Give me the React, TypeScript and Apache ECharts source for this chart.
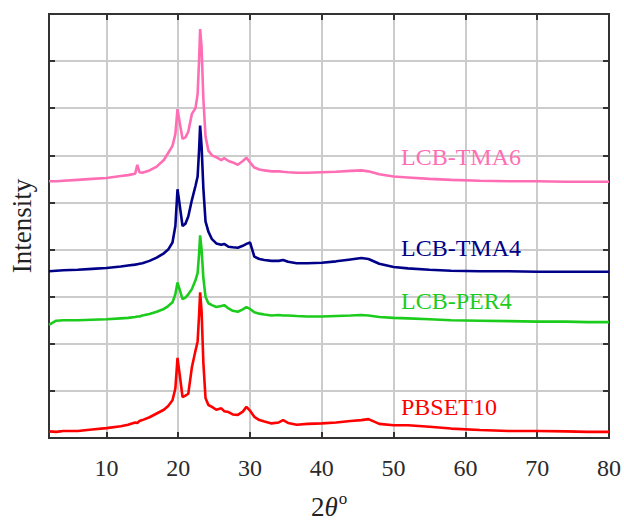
import React, { useEffect, useRef } from "react";
import * as echarts from "echarts";

// 2θ positions (degrees)
const twoTheta = [
  2, 3, 4, 6, 8, 10, 12, 13, 14, 14.3, 14.6, 15, 16, 17, 18, 18.6, 19.2, 19.6, 19.9, 20.2, 20.6, 21.0, 21.4,
  21.9, 22.4, 22.7, 22.9, 23.05, 23.25, 23.5, 23.8, 24.2, 24.7, 25.3, 26, 26.4, 27, 27.6, 28.3, 29, 29.5, 30,
  30.6, 31.3, 32, 33, 34, 34.6, 35.3, 36.5, 38, 40, 42, 44, 45.5, 46.5, 48, 50, 52, 55, 58, 62, 66, 70, 74, 77,
  80,
];

// Intensities (arbitrary units, offset traces)
const pbset10 = [
  0.14, 0.13, 0.15, 0.15, 0.18, 0.21, 0.25, 0.28, 0.33, 0.32, 0.36, 0.38, 0.44, 0.52, 0.6, 0.68, 0.8, 1.05, 1.7,
  1.35, 0.87, 0.9, 0.94, 1.5, 1.85, 2.05, 2.6, 3.09, 2.7, 1.6, 0.85, 0.7, 0.66, 0.6, 0.63, 0.57, 0.55, 0.5, 0.49,
  0.56, 0.66, 0.58, 0.45, 0.38, 0.35, 0.31, 0.33, 0.38, 0.32, 0.28, 0.3, 0.31, 0.33, 0.36, 0.38, 0.4, 0.3, 0.27,
  0.27, 0.24, 0.2, 0.17, 0.15, 0.15, 0.14, 0.13, 0.13,
];
const lcbPer4 = [
  2.4, 2.49, 2.5, 2.5, 2.51, 2.52, 2.54, 2.55, 2.57, 2.58, 2.58, 2.6, 2.63, 2.68, 2.74, 2.8, 2.88, 3.05, 3.3,
  3.15, 2.95, 2.98, 3.05, 3.16, 3.35, 3.5, 3.9, 4.3, 4.0, 3.4, 3.0, 2.86, 2.82, 2.78, 2.8, 2.82, 2.75, 2.7, 2.68,
  2.73, 2.78, 2.74, 2.67, 2.64, 2.62, 2.6, 2.61, 2.6, 2.6, 2.59, 2.58, 2.58, 2.59, 2.6, 2.61, 2.6, 2.57, 2.55,
  2.54, 2.52, 2.5, 2.49, 2.48, 2.47, 2.47, 2.46, 2.46,
];
const lcbTma4 = [
  3.54, 3.55, 3.56, 3.57, 3.59, 3.61, 3.64, 3.66, 3.68, 3.69, 3.7, 3.71, 3.76, 3.83, 3.92, 4.0, 4.15, 4.5, 5.28,
  4.95, 4.5, 4.55, 4.7, 5.05, 5.35, 5.55, 6.1, 6.63, 6.2, 5.3, 4.6, 4.38, 4.22, 4.13, 4.1, 4.12, 4.06, 4.05, 4.04,
  4.08, 4.12, 4.15, 3.85, 3.8, 3.78, 3.76, 3.76, 3.78, 3.74, 3.71, 3.71, 3.72, 3.75, 3.79, 3.82, 3.8, 3.7, 3.63,
  3.6, 3.57, 3.55, 3.54, 3.54, 3.53, 3.53, 3.53, 3.53,
];
const lcbTma6 = [
  5.45, 5.45, 5.46, 5.48, 5.5, 5.52, 5.56, 5.58, 5.61, 5.8, 5.64, 5.63, 5.68, 5.76, 5.9, 6.05, 6.2, 6.45, 6.98,
  6.7, 6.35, 6.38, 6.5, 6.88, 7.0, 7.3, 8.0, 8.68, 8.3, 7.2, 6.4, 6.1, 6.0, 5.96, 5.9, 5.94, 5.88, 5.85, 5.8, 5.88,
  5.95, 5.85, 5.74, 5.7, 5.68, 5.66, 5.66, 5.65, 5.64, 5.63, 5.63, 5.64, 5.65, 5.67, 5.68, 5.66, 5.6, 5.55, 5.53,
  5.5, 5.48, 5.46, 5.45, 5.45, 5.44, 5.44, 5.44,
];

const seriesNames = ["PBSET10", "LCB-PER4", "LCB-TMA4", "LCB-TMA6"];
const seriesColors = ["#ff0000", "#1ccc1c", "#000088", "#ff6eb4"];
const seriesData = [pbset10, lcbPer4, lcbTma4, lcbTma6];
const labelY = [408, 302, 249, 158];

const FONT = "'Liberation Serif', 'Times New Roman', serif";
const GRID_COLOR = "#cccccc";

const frame = () => ({ show: true, onZero: false, lineStyle: { color: "#333333", width: 2 } });
const tick = () => ({ show: true, inside: true, length: 6, lineStyle: { color: "#333333", width: 2 } });
const split = () => ({
  show: true,
  showMinLine: false,
  showMaxLine: false,
  lineStyle: { color: GRID_COLOR, width: 2, type: "solid" },
});

export default function App() {
  const ref = useRef<HTMLDivElement>(null);
  useEffect(() => {
    document.body.style.margin = "0";
    if (!ref.current) return;
    const chart = echarts.init(ref.current, null, { renderer: "svg" });
    chart.setOption({
      animation: false,
      backgroundColor: "#ffffff",
      grid: {
        left: 46,
        right: 11,
        top: 14,
        bottom: 80,
        containLabel: false,
        show: true,
        borderColor: "#333333",
        borderWidth: 2,
        backgroundColor: "transparent",
      },
      xAxis: [
        {
          type: "value",
          position: "bottom",
          min: 2,
          max: 80,
          splitNumber: 8,
          axisLine: frame(),
          axisTick: tick(),
          splitLine: split(),
          axisLabel: {
            fontFamily: FONT,
            fontSize: 24,
            color: "#2a2a2a",
            margin: 18,
            showMinLabel: false,
          },
          name: "{n|2}{i|θ}{s|o}",
          nameLocation: "middle",
          nameGap: 52,
          nameTextStyle: {
            rich: {
              n: { fontFamily: FONT, fontSize: 27, color: "#222", verticalAlign: "bottom", lineHeight: 30 },
              i: { fontFamily: FONT, fontSize: 27, fontStyle: "italic", color: "#222", verticalAlign: "bottom", lineHeight: 30 },
              s: { fontFamily: FONT, fontSize: 17, color: "#222", verticalAlign: "top", lineHeight: 30, padding: [0, 0, 10, 1] },
            },
          },
        },
        {
          type: "value",
          position: "top",
          min: 2,
          max: 80,
          splitNumber: 8,
          axisLine: frame(),
          axisTick: tick(),
          axisLabel: { show: false },
          splitLine: { show: false },
        },
      ],
      yAxis: [
        {
          type: "value",
          position: "left",
          min: 0,
          max: 9,
          interval: 1,
          axisLine: frame(),
          axisTick: tick(),
          axisLabel: { show: false },
          splitLine: split(),
          name: "Intensity",
          nameLocation: "middle",
          nameGap: 14,
          nameRotate: 90,
          nameTextStyle: { fontFamily: FONT, fontSize: 27, color: "#222" },
        },
        {
          type: "value",
          position: "right",
          min: 0,
          max: 9,
          interval: 1,
          axisLine: frame(),
          axisTick: tick(),
          axisLabel: { show: false },
          splitLine: { show: false },
        },
      ],
      series: seriesData.map((vals, k) => ({
        name: seriesNames[k],
        type: "line",
        xAxisIndex: 0,
        yAxisIndex: 0,
        showSymbol: false,
        symbol: "none",
        data: twoTheta.map((x, i) => [x, vals[i]]),
        lineStyle: { color: seriesColors[k], width: 2.6 },
        itemStyle: { color: seriesColors[k] },
        z: 3,
      })),
      graphic: seriesNames.map((n, k) => ({
        type: "text",
        left: 401,
        top: labelY[k] - 13,
        style: {
          text: n,
          fill: seriesColors[k],
          font: `24px ${FONT}`,
        },
        z: 10,
      })),
    });
    return () => chart.dispose();
  }, []);
  return <div ref={ref} style={{ width: 624, height: 525 }} />;
}
